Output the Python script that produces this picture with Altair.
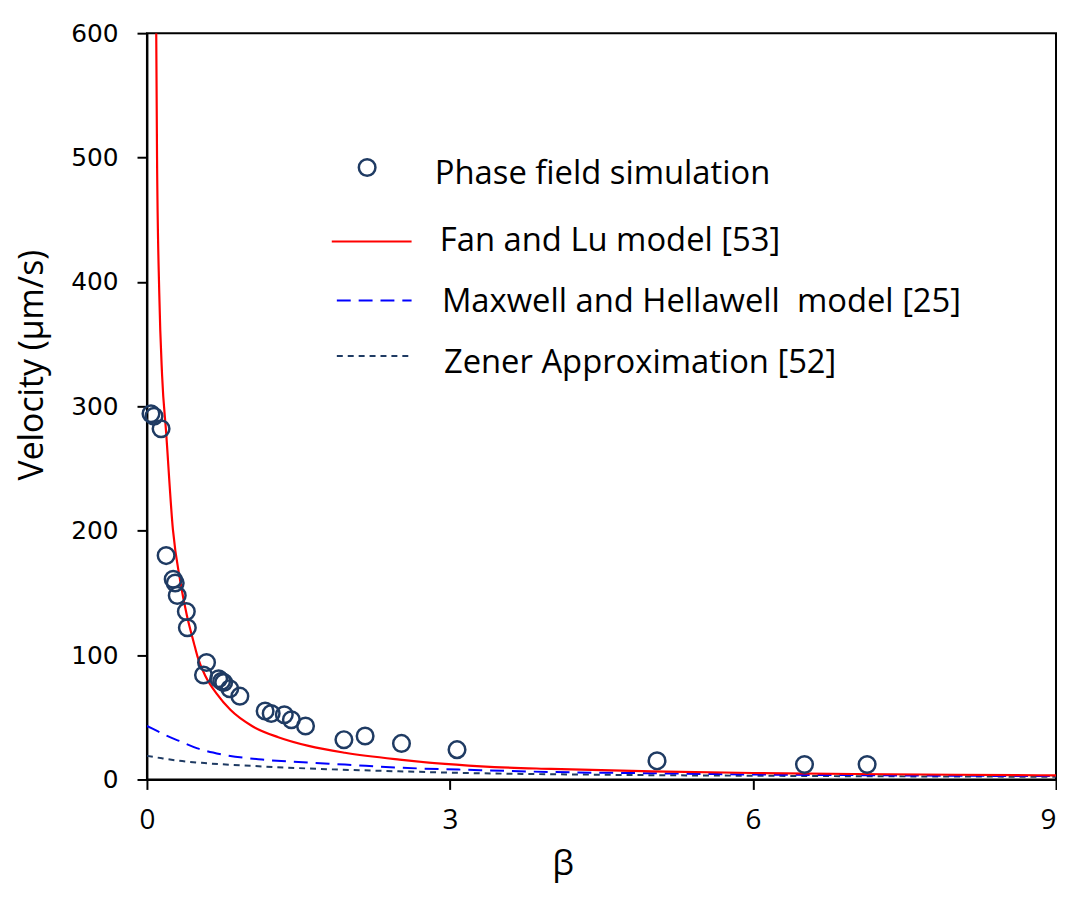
import altair as alt
import pandas as pd

# Phase field simulation points
sim_beta = [0.04, 0.07, 0.14, 0.19, 0.26, 0.28, 0.30, 0.39, 0.40, 0.59, 0.56, 0.71, 0.74, 0.76, 0.82,
            0.92, 1.17, 1.23, 1.36, 1.43, 1.57, 1.95, 2.16, 2.52, 3.07, 5.05, 6.51, 7.13]
sim_vel = [294, 292, 282, 180, 161, 158, 148, 135, 122, 94, 84, 81, 79, 78, 73,
           67, 55, 53, 52, 48, 43, 32, 35, 29, 24, 15, 12, 12]

# Fan and Lu model curve
fan_beta = [0.092, 0.10, 0.122, 0.15, 0.19, 0.257, 0.333, 0.395, 0.464, 0.50, 0.58, 0.69, 0.826, 1.04,
            1.3, 1.6, 1.96, 2.5, 2.95, 3.44, 4.0, 5.0, 6.0, 7.0, 8.0, 9.0]
fan_vel = [600, 500, 391, 325, 279, 201, 158, 132, 110, 99, 83, 69, 56, 43,
           34, 27, 21.5, 16, 12.5, 10, 8.5, 6.5, 5.2, 4.4, 3.8, 3.3]

# Maxwell and Hellawell model curve
mh_beta = [0, 0.1, 0.2, 0.32, 0.5, 0.75, 1.14, 1.5, 1.96, 2.5, 3.3, 4.0, 5.0, 6.0, 7.0, 8.0, 9.0]
mh_vel = [43, 39, 35, 31, 25, 20, 16, 14, 12, 9.5, 7.5, 6, 5, 4, 3.5, 3, 2.7]

# Zener approximation curve
zn_beta = [0, 0.15, 0.32, 0.6, 1.14, 1.7, 2.3, 3.3, 4.5, 6.0, 7.5, 9.0]
zn_vel = [19, 17, 15, 13, 10.5, 8.5, 7, 5, 3.8, 3, 2.5, 2.2]

# Legend labels
legend_labels = ["Phase field simulation", "Fan and Lu model [53]",
                 "Maxwell and Hellawell\u00a0 model [25]", "Zener Approximation [52]"]
legend_text_x = [2.85, 2.90, 2.92, 2.94]
legend_text_y = [487, 433, 384, 335]
legend_line_x = [1.83, 2.62]
legend_line_y = [432.5, 385, 340.5]
legend_marker = (2.18, 492)

NAVY = "#1f3b63"
FONT = "Open Sans"

xs = alt.Scale(domain=[0, 9], nice=False)
ys = alt.Scale(domain=[0, 600], nice=False)

x_axis = alt.Axis(values=[0, 3, 6, 9], format="d", title="β", grid=False,
                  labelFont=FONT, labelFontSize=28, labelColor="black", labelPadding=17,
                  labelAlign={"expr": "datum.value == 9 ? 'right' : 'center'"},
                  tickSize=10, tickWidth=2, tickColor="black", domainColor="black", domainWidth=2,
                  titleFont=FONT, titleFontSize=35, titleFontWeight="normal", titleColor="black",
                  titleX=419, titleY=68, titleBaseline="top")
y_axis = alt.Axis(values=[0, 100, 200, 300, 400, 500, 600], title="Velocity (µm/s)", grid=False,
                  labelFont="DejaVu Sans", labelFontSize=25, labelColor="black", labelPadding=19,
                  tickSize=10, tickWidth=2, tickColor="black", domainColor="black", domainWidth=2,
                  titleFont=FONT, titleFontSize=34, titleFontWeight="normal", titleColor="black",
                  titleX=-105, titleY=334, titleBaseline="alphabetic", titleAngle=-90)

sim_df = pd.DataFrame({"beta": sim_beta, "v": sim_vel})
fan_df = pd.DataFrame({"beta": fan_beta, "v": fan_vel})
mh_df = pd.DataFrame({"beta": mh_beta, "v": mh_vel})
zn_df = pd.DataFrame({"beta": zn_beta, "v": zn_vel})

base_x = alt.X("beta:Q", scale=xs, axis=x_axis)
base_y = alt.Y("v:Q", scale=ys, axis=y_axis)

zn = alt.Chart(zn_df).mark_line(color=NAVY, strokeWidth=2, strokeDash=[6, 5], interpolate="monotone",
                                clip=True).encode(x=base_x, y=base_y)
mh = alt.Chart(mh_df).mark_line(color="#0000ff", strokeWidth=2, strokeDash=[14, 8], interpolate="monotone",
                                clip=True).encode(
    x=alt.X("beta:Q", scale=xs), y=alt.Y("v:Q", scale=ys))
fan = alt.Chart(fan_df).mark_line(color="#ff0000", strokeWidth=2.2, interpolate="monotone", clip=True).encode(
    x=alt.X("beta:Q", scale=xs), y=alt.Y("v:Q", scale=ys))
pts = alt.Chart(sim_df).mark_point(shape="circle", size=280, filled=False, color=NAVY,
                                   strokeWidth=2.5, opacity=1).encode(
    x=alt.X("beta:Q", scale=xs), y=alt.Y("v:Q", scale=ys))

# Legend layers
leg_text_df = pd.DataFrame({"beta": legend_text_x, "v": legend_text_y, "label": legend_labels})
leg_text = alt.Chart(leg_text_df).mark_text(align="left", baseline="middle", font=FONT,
                                            fontSize=33, color="black").encode(
    x=alt.X("beta:Q", scale=xs), y=alt.Y("v:Q", scale=ys), text="label:N")

leg_pt = alt.Chart(pd.DataFrame({"beta": [legend_marker[0]], "v": [legend_marker[1]]})).mark_point(
    shape="circle", size=280, filled=False, color=NAVY, strokeWidth=2.5, opacity=1).encode(
    x=alt.X("beta:Q", scale=xs), y=alt.Y("v:Q", scale=ys))

def leg_line(x0, x1, yv, color, dash):
    df = pd.DataFrame({"beta": [x0, x1], "v": [yv, yv]})
    kw = dict(color=color, strokeWidth=2)
    if dash:
        kw["strokeDash"] = dash
    return alt.Chart(df).mark_line(**kw).encode(
        x=alt.X("beta:Q", scale=xs), y=alt.Y("v:Q", scale=ys))

l1 = leg_line(legend_line_x[0], legend_line_x[1], legend_line_y[0], "#ff0000", None)
l2 = leg_line(legend_line_x[0] + 0.05, legend_line_x[1], legend_line_y[1], "#0000ff", [14, 8])
l3 = leg_line(legend_line_x[0] + 0.05, legend_line_x[1], legend_line_y[2], NAVY, [6, 5])

chart = alt.layer(zn, mh, fan, pts, leg_pt, l1, l2, l3, leg_text).properties(
    width=916, height=752,
    padding={"left": 140, "top": 22, "right": 1, "bottom": 108},
    autosize=alt.AutoSizeParams(type="none"),
    background="white",
).configure_view(stroke="black", strokeWidth=2)

chart.save("out.html", embed_options={"renderer": "svg", "actions": False})
